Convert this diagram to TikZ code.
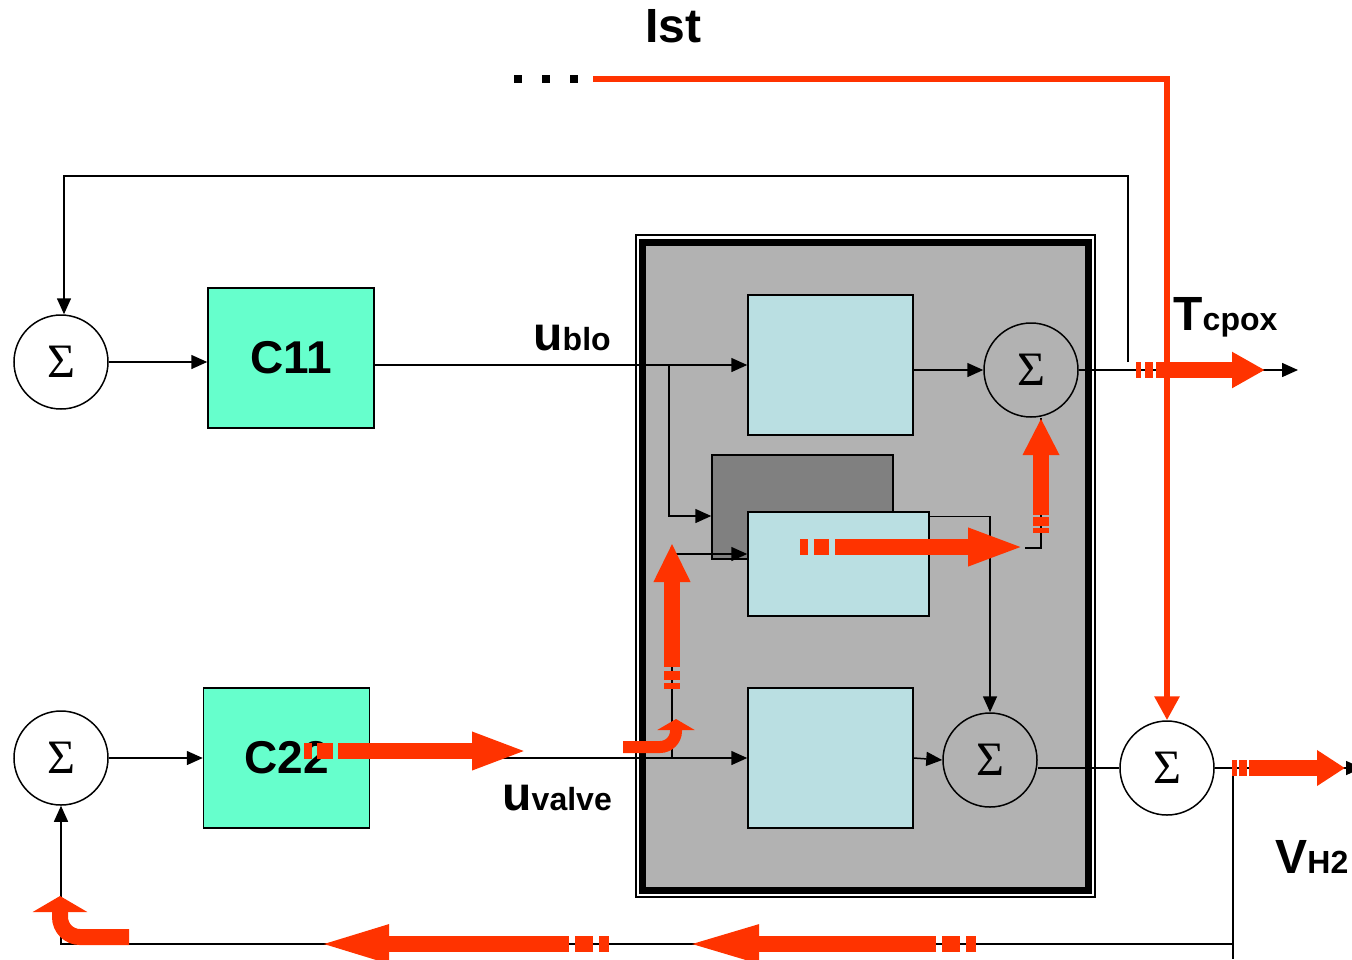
\documentclass[tikz,border=0pt]{standalone}
\usepackage{fontspec}
\setmainfont{Liberation Sans}
\newfontfamily\sigmafont{Liberation Serif}
\usepackage{tikz}
\usetikzlibrary{positioning,arrows.meta,calc}
\definecolor{ctrlgreen}{HTML}{66FFCC}
\definecolor{plantblue}{HTML}{BADFE2}
\definecolor{framegray}{HTML}{B2B2B2}
\definecolor{stackgray}{HTML}{808080}
\definecolor{flowred}{HTML}{FF3300}
\newcommand\bigsym[1]{{\fontsize{24}{26}\selectfont #1}}
\tikzset{
  sumnode/.style={circle, draw, line width=0.75pt, minimum size=47pt, inner sep=0pt,
    font=\sigmafont\fontsize{24}{24}\selectfont},
  ctrlbox/.style={draw, line width=0.75pt, fill=ctrlgreen, minimum width=83pt,
    minimum height=70pt, inner sep=0pt, font=\bfseries\fontsize{23}{26}\selectfont},
  plantbox/.style={draw, line width=0.75pt, fill=plantblue, minimum width=82.5pt,
    minimum height=70pt, inner sep=0pt},
  sig/.style={line width=0.75pt, -{Triangle[length=8pt, width=7pt]}},
  wire/.style={line width=0.75pt},
  flow/.style={flowred, line width=8pt},
  sglabel/.style={anchor=base west, inner sep=0pt, font=\bfseries\fontsize{16}{18}\selectfont},
}

\begin{document}
\begin{tikzpicture}[x=0.5pt, y=-0.5pt]
  \useasboundingbox (0,0) rectangle (1352,959);
  % plant frame
  \draw[line width=0.75pt] (636,235) rectangle (1095,897);
  \draw[line width=3.5pt, fill=framegray] (642.5,242.5) rectangle (1088,890);
  % blocks
  \node[sumnode] (sum1) at (61,362) {Σ};
  \node[ctrlbox] (c11) at (291,358) {C11};
  \node[sumnode] (sum2) at (61,758) {Σ};
  \node[ctrlbox] (c22) at (286.5,758) {C22};
  \node[plantbox] (plant1) at (830.5,365) {};
  \node[plantbox, fill=stackgray, minimum width=90.5pt, minimum height=52pt] (stack) at (802.5,507) {};
  \node[plantbox, minimum width=90.5pt, minimum height=52pt] (plant2) at (838.5,564) {};
  \node[plantbox] (plant3) at (830.5,758) {};
  \node[sumnode] (sumA) at (1031,370) {Σ};
  \node[sumnode] (sumB) at (990,760) {Σ};
  \node[sumnode] (sumV) at (1167,768) {Σ};
  % taps
  \coordinate (tapT) at (1128,362);
  \coordinate (tout) at (1298,370);
  \coordinate (tapV) at (1233,768);
  \coordinate (vout) at (1362,768);
  \coordinate (brU) at (669,365);
  \coordinate (brV) at (672,758);
  \coordinate (p2out) at (1025,548);
  % signals
  \draw[sig] (sum1.east) -- (sum1.east -| c11.west);
  \draw[sig] (sum2.east) -- (c22.west);
  \draw[sig] (c11.east |- plant1.west) -- (plant1.west);
  \draw[sig] (c22.east) -- (plant3.west);
  \draw[sig] (plant1.east |- sumA.west) -- (sumA.west);
  \draw[sig] (sumA.east) -- (tout);
  \draw[sig] (tapT) -- (tapT |- 0,176) -| ($(sum1.north)+(3,0)$);
  \draw[sig] (brU) |- ($(stack.west)+(0,9)$);
  \draw[sig] (brV) |- ($(plant2.west)+(0,-10)$);
  \draw[sig] ($(plant2.north east)+(0,5)$) -| (sumB.north);
  \draw[wire] (p2out) -| ($(sumA.south)+(10,0)$);
  \draw[sig] (plant3.east) -- (sumB.west);
  \draw[wire] (sumV.west -| sumB.east) -- (sumV.west);
  \draw[sig] (sumV.east) -- (vout);
  \draw[wire] (tapV) -- ++(0,191);
  \draw[sig] ($(tapV)+(0,176)$) -| (sum2.south);
  % labels
  \node[sglabel, font=\bfseries\fontsize{24}{26}\selectfont] (ist) at (645,42) {Ist};
  \node[sglabel] (ublo) at (533,350) {\bigsym{u}blo};
  \node[sglabel] (uvalve) at (502,810) {\bigsym{u}valve};
  \node[sglabel] (tcpox) at (1173,330) {\bigsym{T}cpox};
  \node[sglabel] (vh2) at (1275,873) {\bigsym{V}H2};
  % Ist current
  \foreach \xd in {518,546,574}
    \fill (\xd-4,75) rectangle ++(8,8);
  \draw[flowred, line width=3pt, -{Triangle[length=12pt, width=12pt]}] (593,79) -| (sumV.north);
  % flow arrows
  \draw[flow, dash pattern=on 2.5pt off 2pt on 4pt off 1.5pt on 400pt,
    -{Triangle[length=16.5pt, width=17pt]}] (1136,370) -- (1265,370);
  \draw[flow, dash pattern=on 2.5pt off 1pt on 4pt off 1pt on 400pt,
    -{Triangle[length=14pt, width=17pt]}] (1232,768) -- (1345,768);
  \draw[flow, dash pattern=on 4pt off 3pt on 7.5pt off 3pt on 400pt,
    -{Triangle[length=28.5pt, width=17pt]}] (800,547) -- (1025,547);
  \draw[flow, dash pattern=on 2.5pt off 1pt on 4.5pt off 1pt on 400pt,
    -{Triangle[length=18.5pt, width=17pt]}] (1041,533) -- (1041,418);
  \draw[flow, dash pattern=on 3pt off 1.5pt on 4.5pt off 2pt on 400pt,
    -{Triangle[length=19.5pt, width=17pt]}] (672,689) -- (672,543);
  \draw[flow, dash pattern=on 4pt off 2.5pt on 8pt off 2.5pt on 400pt,
    -{Triangle[length=28pt, width=17pt]}] (304,751) -- (528,751);
  \draw[flow, dash pattern=on 5pt off 3pt on 9pt off 3pt on 400pt,
    -{Triangle[length=37.5pt, width=17pt]}] (976,944) -- (684,944);
  \draw[flow, dash pattern=on 5pt off 3pt on 9pt off 3pt on 400pt,
    -{Triangle[length=36.5pt, width=17pt]}] (609,944) -- (316,944);
  \draw[flow, line width=6pt, rounded corners=8pt,
    -{Triangle[length=5.5pt, width=18.5pt]}] (623,747) -| (676,719);
  \draw[flow, rounded corners=10pt,
    -{Triangle[length=8pt, width=27pt]}] (129,937) -| (60,896);
\end{tikzpicture}
\end{document}
